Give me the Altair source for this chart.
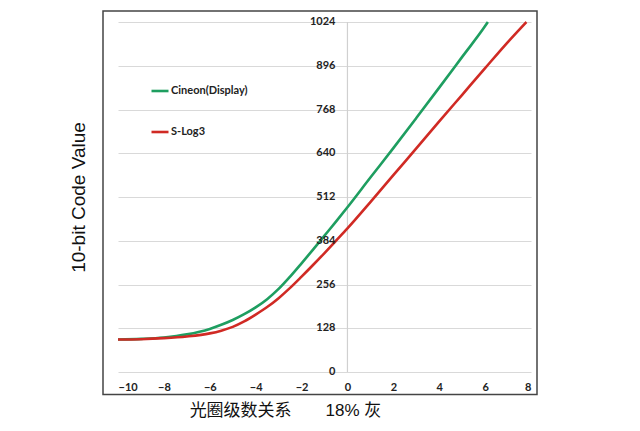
import altair as alt
import pandas as pd

# Data
cineon_stops = [-10, -9, -8, -7, -6, -5.5, -5, -4.5, -4, -3.5, -3, -2.5, -2, -1.5, -1, -0.5, 0, 1, 2, 3, 4, 5, 6, 6.12]
cineon_vals = [95, 97, 101, 110, 126, 138, 152, 169, 189, 213, 243, 279, 318, 358, 399, 440, 482, 569, 655, 743, 832, 922, 1012, 1024]

slog3_stops = [-10, -9, -8, -7, -6, -5.5, -5, -4.5, -4, -3.5, -3, -2.5, -2, -1.5, -1, -0.5, 0, 1, 2, 3, 4, 5, 6, 7, 7.8]
slog3_vals = [95, 96, 99, 104, 113, 121, 132, 148, 168, 190, 216, 246, 279, 313, 348, 384, 420, 497, 576, 654, 733, 811, 889, 966, 1024]

series_names = ["Cineon(Display)", "S-Log3"]
series_colors = ["#1e9e60", "#d02a24"]

x_ticks = [-10, -8, -6, -4, -2, 0, 2, 4, 6, 8]
y_ticks = [0, 128, 256, 384, 512, 640, 768, 896, 1024]

x_title = "光圈级数关系\u3000\u300018% 灰"
y_title = "10-bit Code Value"

rows = []
for s, v in zip(cineon_stops, cineon_vals):
    rows.append({"stop": s, "code": v, "series": series_names[0]})
for s, v in zip(slog3_stops, slog3_vals):
    rows.append({"stop": s, "code": v, "series": series_names[1]})
df = pd.DataFrame(rows)

tick_df = pd.DataFrame({"x": [0] * len(y_ticks), "y": y_ticks, "label": [str(t) for t in y_ticks]})
zero_df = pd.DataFrame({"x": [0]})
frame_df = pd.DataFrame({"a": [0]})

xscale = alt.Scale(domain=[-10, 8], nice=False, zero=False)
yscale = alt.Scale(domain=[0, 1024], nice=False)

lines = alt.Chart(df).mark_line(strokeWidth=2.6, interpolate="monotone").encode(
    x=alt.X("stop:Q", scale=xscale, axis=alt.Axis(
        values=x_ticks, grid=False, domain=False, ticks=False,
        labelFont="Lato", labelFontWeight="bold", labelFontSize=11, labelColor="#222222",
        labelPadding=9,
        title=x_title, titleFont="Liberation Sans, Noto Sans CJK SC", titleFontSize=17,
        titleFontWeight="normal", titleColor="#111111",
        titleX=167, titleY=38, titleAlign="center", titleBaseline="middle")),
    y=alt.Y("code:Q", scale=yscale, axis=alt.Axis(
        values=y_ticks, grid=True, gridColor="#d9d9d9", gridWidth=1,
        labels=False, ticks=False, domain=False,
        title=y_title, titleFont="Liberation Sans", titleFontSize=19,
        titleFontWeight="normal", titleColor="#111111",
        titleX=-40, titleY=175, titleAngle=270, titleAlign="center", titleBaseline="middle")),
    color=alt.Color("series:N", scale=alt.Scale(domain=series_names, range=series_colors),
                    legend=alt.Legend(orient="none", legendX=32, legendY=59, title=None,
                                      symbolType="stroke", symbolSize=289, symbolStrokeWidth=2.6,
                                      labelFont="Lato", labelFontWeight="bold", labelFontSize=11,
                                      labelColor="#222222", rowPadding=25, labelOffset=1, padding=0)),
    order=alt.Order("stop:Q"),
)

zero_rule = alt.Chart(zero_df).mark_rule(color="#d0d0d0", strokeWidth=1.2).encode(
    x=alt.X("x:Q", scale=xscale)
)

tick_text = alt.Chart(tick_df).mark_text(
    align="right", baseline="middle", dx=-12, font="Lato", fontWeight="bold",
    fontSize=11, color="#222222"
).encode(
    x=alt.X("x:Q", scale=xscale),
    y=alt.Y("y:Q", scale=yscale),
    text="label:N",
)

frame = alt.Chart(frame_df).mark_rect(fillOpacity=0, stroke="#444444", strokeWidth=1.5).encode(
    x=alt.value(-15), x2=alt.value(419), y=alt.value(-11), y2=alt.value(372.5)
)

chart = alt.layer(zero_rule, lines, tick_text, frame).properties(
    width=413, height=350,
    padding={"left": 110, "top": 14, "right": 20, "bottom": 50},
    autosize=alt.AutoSizeParams(type="none"),
).configure_view(stroke=None)

chart.save("out.html", embed_options={"renderer": "svg", "actions": False})
